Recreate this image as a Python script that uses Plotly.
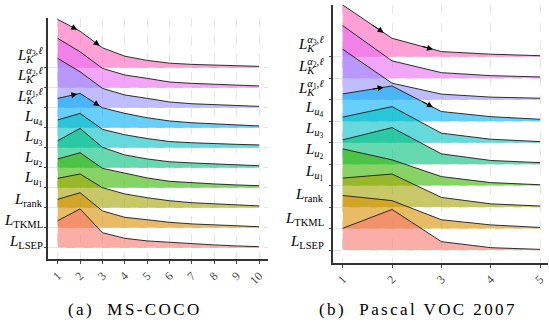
import plotly.graph_objects as go

# ---------------- data ----------------
GROUPS = ["LSEP", "TKML", "rank", "u1", "u2", "u3", "u4", "a1", "a2", "a3"]
LABELS = [
    "<i>L</i><sub>LSEP</sub>",
    "<i>L</i><sub>TKML</sub>",
    "<i>L</i><sub>rank</sub>",
    "<i>L</i><sub><i>u</i><sub>1</sub></sub>",
    "<i>L</i><sub><i>u</i><sub>2</sub></sub>",
    "<i>L</i><sub><i>u</i><sub>3</sub></sub>",
    "<i>L</i><sub><i>u</i><sub>4</sub></sub>",
    "<i>L</i><sub><span style='letter-spacing:-7px'><i>K</i></span></sub><sup><i>α</i><sub>1</sub>,<i>ℓ</i></sup>",
    "<i>L</i><sub><span style='letter-spacing:-7px'><i>K</i></span></sub><sup><i>α</i><sub>2</sub>,<i>ℓ</i></sup>",
    "<i>L</i><sub><span style='letter-spacing:-7px'><i>K</i></span></sub><sup><i>α</i><sub>3</sub>,<i>ℓ</i></sup>",
]

coco_x = [1, 2, 3, 4, 5, 6, 7, 8, 9, 10]
coco_ticks = ["1", "2", "3", "4", "5", "6", "7", "8", "9", "10"]
coco_lsep = [1.35, 1.94, 0.75, 0.47, 0.34, 0.27, 0.19, 0.14, 0.09, 0.05]
coco_tkml = [1.42, 1.75, 0.84, 0.52, 0.40, 0.27, 0.19, 0.14, 0.09, 0.05]
coco_rank = [1.47, 1.69, 1.00, 0.69, 0.50, 0.35, 0.25, 0.19, 0.14, 0.09]
coco_u1 = [1.44, 1.75, 0.97, 0.72, 0.49, 0.32, 0.24, 0.19, 0.14, 0.10]
coco_u2 = [1.35, 1.97, 1.02, 0.64, 0.44, 0.30, 0.24, 0.19, 0.14, 0.10]
coco_u3 = [1.39, 1.72, 0.92, 0.65, 0.46, 0.31, 0.25, 0.20, 0.17, 0.14]
coco_u4 = [1.47, 1.72, 1.00, 0.72, 0.50, 0.34, 0.25, 0.19, 0.14, 0.09]
coco_a1 = [2.47, 1.80, 0.97, 0.64, 0.47, 0.29, 0.20, 0.15, 0.10, 0.07]
coco_a2 = [2.47, 1.80, 0.97, 0.64, 0.47, 0.29, 0.22, 0.17, 0.12, 0.09]
coco_a3 = [2.42, 1.83, 1.00, 0.58, 0.37, 0.23, 0.17, 0.13, 0.10, 0.07]

voc_x = [1, 2, 3, 4, 5]
voc_ticks = ["1", "2", "3", "4", "5"]
voc_lsep = [1.01, 1.89, 0.39, 0.11, 0.03]
voc_tkml = [1.54, 1.30, 0.41, 0.17, 0.05]
voc_rank = [1.35, 1.54, 0.45, 0.15, 0.05]
voc_u1 = [1.71, 1.20, 0.42, 0.14, 0.04]
voc_u2 = [1.13, 1.70, 0.48, 0.17, 0.07]
voc_u3 = [1.19, 1.68, 0.44, 0.16, 0.05]
voc_u4 = [1.27, 1.64, 0.45, 0.21, 0.09]
voc_a1 = [2.35, 0.77, 0.26, 0.12, 0.07]
voc_a2 = [2.45, 0.81, 0.26, 0.12, 0.06]
voc_a3 = [2.41, 0.86, 0.24, 0.12, 0.05]

# segments carrying an arrow: (group, segment start index)
ARROW_SEGMENTS = [("a3", 0), ("a3", 1), ("u4", 0), ("u4", 1)]

TITLES = ["(a)  MS-COCO", "(b)  Pascal VOC 2007"]

# ---------------- style ----------------
COLORS = ["#F8766D", "#D89000", "#A3A500", "#39B600", "#00BF7D",
          "#00BFC4", "#00B0F6", "#9590FF", "#E76BF3", "#FF62BC"]
ALPHA = 0.6
SERIF = "Liberation Serif, DejaVu Serif, serif"


def rgba(h, a):
    h = h.lstrip("#")
    return "rgba(%d,%d,%d,%.2f)" % (int(h[0:2], 16), int(h[2:4], 16), int(h[4:6], 16), a)


coco = dict(zip(GROUPS, [coco_lsep, coco_tkml, coco_rank, coco_u1, coco_u2,
                         coco_u3, coco_u4, coco_a1, coco_a2, coco_a3]))
voc = dict(zip(GROUPS, [voc_lsep, voc_tkml, voc_rank, voc_u1, voc_u2,
                        voc_u3, voc_u4, voc_a1, voc_a2, voc_a3]))

fig = go.Figure()

panels = [
    dict(data=coco, x=coco_x, xa="x", ya="y", frac=0.875),
    dict(data=voc, x=voc_x, xa="x2", ya="y2", frac=0.83),
]

for p in panels:
    xs = p["x"]
    # draw top ridge first so lower ridges sit on top
    for k in reversed(range(len(GROUPS))):
        g = GROUPS[k]
        vals = p["data"][g]
        top = [k + v for v in vals]
        fig.add_trace(go.Scatter(
            x=xs + xs[::-1], y=top + [k] * len(xs),
            fill="toself", fillcolor=rgba(COLORS[k], ALPHA),
            line=dict(width=0), mode="lines", hoverinfo="skip",
            showlegend=False, xaxis=p["xa"], yaxis=p["ya"]))
        fig.add_trace(go.Scatter(
            x=xs, y=top, mode="lines",
            line=dict(color="#1a1a1a", width=0.9),
            hoverinfo="skip", showlegend=False,
            xaxis=p["xa"], yaxis=p["ya"]))
    for g, i in ARROW_SEGMENTS:
        k = GROUPS.index(g)
        vals = p["data"][g]
        x0, x1 = xs[i], xs[i + 1]
        y0, y1 = k + vals[i], k + vals[i + 1]
        f = p["frac"]
        ft = f - 0.25
        fig.add_annotation(
            x=x0 + f * (x1 - x0), y=y0 + f * (y1 - y0),
            ax=x0 + ft * (x1 - x0), ay=y0 + ft * (y1 - y0),
            xref=p["xa"], yref=p["ya"], axref=p["xa"], ayref=p["ya"],
            text="", showarrow=True, arrowhead=2, arrowsize=1.2,
            arrowwidth=1, arrowcolor="#000", standoff=0)

W, H = 549, 322
axis_common = dict(showline=True, linecolor="#333", linewidth=1.6,
                   ticks="outside", ticklen=3, tickcolor="#444", tickwidth=1,
                   showgrid=True, gridcolor="#e6e6e6", griddash="dash",
                   gridwidth=1, zeroline=False, fixedrange=True,
                   automargin=False)

fig.update_layout(
    width=W, height=H,
    margin=dict(l=0, r=0, t=0, b=0),
    paper_bgcolor="white", plot_bgcolor="white",
    showlegend=False,
    xaxis=dict(domain=[48.3 / W, 268 / W], range=[0.58, 10.4],
               tickvals=coco_x, ticktext=coco_ticks, tickangle=-45,
               anchor="y",
               tickfont=dict(family=SERIF, size=12, color="#4d4d4d"),
               **axis_common),
    yaxis=dict(domain=[(H - 259.3) / H, (H - 18) / H], range=[-0.58, 11.49],
               tickvals=list(range(10)), showticklabels=False, anchor="x",
               **axis_common),
    xaxis2=dict(domain=[333.3 / W, 548 / W], range=[0.81, 5.16],
                tickvals=voc_x, ticktext=voc_ticks, tickangle=-45,
                anchor="y2",
                tickfont=dict(family=SERIF, size=12, color="#4d4d4d"),
                **axis_common),
    yaxis2=dict(domain=[(H - 262.7) / H, (H - 5) / H], range=[-0.59, 11.41],
                tickvals=list(range(10)), showticklabels=False, anchor="x2",
                **axis_common),
)

# ----- y labels -----
label_specs = [
    dict(ya="y", xr=44.5 / W, shift=[6, 7, 8, 9, 9, 10, 10, 12, 12.5, 12.5]),
    dict(ya="y2", xr=326 / W, shift=[8, 10, 12, 13, 13, 13, 12, 11.5, 12, 13]),
]
for spec in label_specs:
    for k in range(len(GROUPS)):
        fig.add_annotation(x=spec["xr"], xref="paper", y=k, yref=spec["ya"],
                           xanchor="right", yanchor="middle", yshift=spec["shift"][k],
                           text=LABELS[k], showarrow=False,
                           font=dict(family=SERIF, size=15, color="#000"))

# ----- panel captions -----
for cx, t in zip([135 / W, 418 / W], TITLES):
    fig.add_annotation(x=cx, xref="paper", y=(H - 309) / H, yref="paper",
                       xanchor="center", yanchor="middle",
                       text="<span style='letter-spacing:2.4px'>%s</span>" % t,
                       showarrow=False,
                       font=dict(family=SERIF, size=17, color="#000"))

fig.write_html("out.html", config={"displayModeBar": False},
               post_script="document.body.style.margin='0px';document.body.style.overflow='hidden';")
